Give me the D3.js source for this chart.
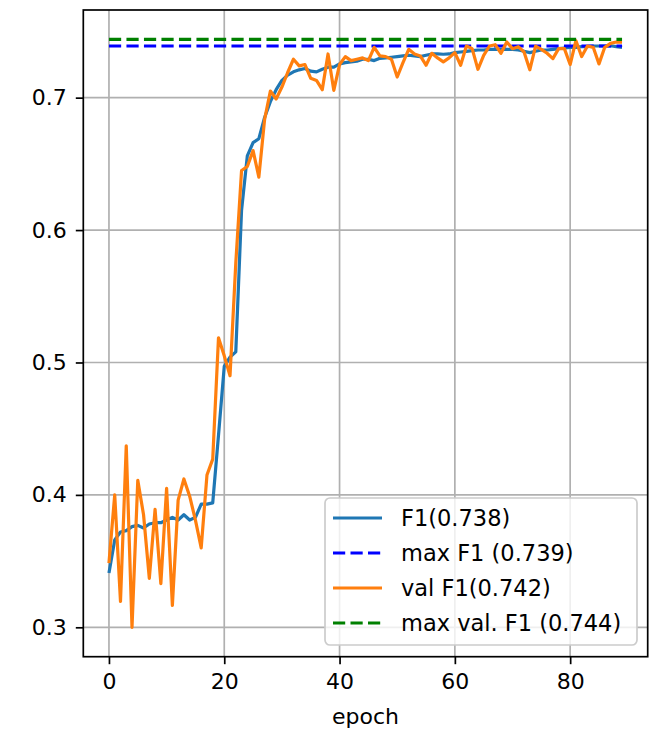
<!DOCTYPE html>
<html lang="en">
<head>
  <meta charset="UTF-8" />
  <title>F1 per epoch</title>
  <style>
    body { margin: 0; background: #fff; font-family: "DejaVu Sans", sans-serif; }
  </style>
</head>
<body>
  <div id="chart"></div>
  <script src="https://d3js.org/d3.v7.min.js"></script>
  <script>
    // training F1 per epoch
    const f1 = [
      0.341, 0.366, 0.372, 0.373, 0.376, 0.377, 0.375, 0.378, 0.379, 0.379,
      0.381, 0.383, 0.381, 0.385, 0.381, 0.383, 0.393, 0.393, 0.394, 0.445,
      0.497, 0.504, 0.508, 0.615, 0.656, 0.666, 0.669, 0.685, 0.697, 0.706,
      0.713, 0.717, 0.7195, 0.721, 0.722, 0.720, 0.7195, 0.7215, 0.723, 0.723,
      0.7255, 0.7265, 0.727, 0.7275, 0.729, 0.729, 0.728, 0.7297, 0.730, 0.7305,
      0.731, 0.7315, 0.732, 0.7315, 0.731, 0.732, 0.733, 0.733, 0.7328, 0.733,
      0.734, 0.7345, 0.735, 0.7355, 0.736, 0.736, 0.7365, 0.7365, 0.7365, 0.7365,
      0.7365, 0.736, 0.735, 0.734, 0.735, 0.736, 0.736, 0.7365, 0.737, 0.7375,
      0.738, 0.738, 0.7385, 0.7385, 0.739, 0.739, 0.739, 0.7392, 0.7385, 0.738
    ];

    // validation F1 per epoch
    const valF1 = [
      0.3485, 0.400, 0.3195, 0.437, 0.300, 0.411, 0.385, 0.337, 0.389, 0.333,
      0.405, 0.3165, 0.396, 0.412, 0.399, 0.381, 0.360, 0.415, 0.427, 0.5186,
      0.505, 0.490, 0.575, 0.645, 0.648, 0.660, 0.640, 0.6836, 0.705, 0.699,
      0.708, 0.719, 0.729, 0.724, 0.725, 0.7146, 0.713, 0.706, 0.733, 0.7055,
      0.725, 0.731, 0.728, 0.729, 0.730, 0.728, 0.738, 0.7315, 0.731, 0.729,
      0.7156, 0.7265, 0.7365, 0.733, 0.7315, 0.7245, 0.7335, 0.730, 0.727, 0.730,
      0.734, 0.7245, 0.739, 0.737, 0.7214, 0.732, 0.739, 0.740, 0.7335, 0.742,
      0.737, 0.7385, 0.7345, 0.721, 0.739, 0.7365, 0.7335, 0.7295, 0.737, 0.737,
      0.725, 0.743, 0.731, 0.739, 0.738, 0.7255, 0.738, 0.741, 0.742, 0.742
    ];

    const maxF1 = 0.739;
    const maxValF1 = 0.744;

    const xTicks = [0, 20, 40, 60, 80];
    const yTicks = [0.3, 0.4, 0.5, 0.6, 0.7];

    const legendLabels = ["F1(0.738)", "max F1 (0.739)", "val F1(0.742)", "max val. F1 (0.744)"];

    const W = 653, H = 731;
    const margin = { top: 10, right: 5.3, bottom: 74.3, left: 83.3 };
    const width = W - margin.left - margin.right;
    const height = H - margin.top - margin.bottom;
    const fontSize = 22;

    const epochs = d3.range(f1.length);

    const svg = d3.select("#chart").append("svg")
      .attr("width", W)
      .attr("height", H);

    const g = svg.append("g")
      .attr("transform", `translate(${margin.left},${margin.top})`);

    // matplotlib style 5% padding
    const xMin = 0, xMax = epochs.length - 1;
    const xPad = (xMax - xMin) * 0.05;
    const x = d3.scaleLinear()
      .domain([xMin - xPad, xMax + xPad])
      .range([0, width]);

    const allY = f1.concat(valF1, [maxF1, maxValF1]);
    const yMin = d3.min(allY), yMax = d3.max(allY);
    const yPad = (yMax - yMin) * 0.05;
    const y = d3.scaleLinear()
      .domain([yMin - yPad, yMax + yPad])
      .range([height, 0]);

    // grid
    g.append("g").selectAll("line")
      .data(xTicks).enter().append("line")
      .attr("x1", d => x(d)).attr("x2", d => x(d))
      .attr("y1", 0).attr("y2", height)
      .attr("stroke", "#b0b0b0").attr("stroke-width", 1.7);

    g.append("g").selectAll("line")
      .data(yTicks).enter().append("line")
      .attr("x1", 0).attr("x2", width)
      .attr("y1", d => y(d)).attr("y2", d => y(d))
      .attr("stroke", "#b0b0b0").attr("stroke-width", 1.7);

    const line = d3.line()
      .x((d, i) => x(i))
      .y(d => y(d));

    const flat = v => [[xMin, v], [xMax, v]];
    const flatLine = d3.line().x(d => x(d[0])).y(d => y(d[1]));

    g.append("path")
      .datum(f1)
      .attr("d", line)
      .attr("fill", "none")
      .attr("stroke", "#1f77b4")
      .attr("stroke-width", 3.2)
      .attr("stroke-linejoin", "round");

    g.append("path")
      .datum(flat(maxF1))
      .attr("d", flatLine)
      .attr("fill", "none")
      .attr("stroke", "#0000ff")
      .attr("stroke-width", 3.2)
      .attr("stroke-dasharray", "12.2 5.3");

    g.append("path")
      .datum(valF1)
      .attr("d", line)
      .attr("fill", "none")
      .attr("stroke", "#ff7f0e")
      .attr("stroke-width", 3.2)
      .attr("stroke-linejoin", "round");

    g.append("path")
      .datum(flat(maxValF1))
      .attr("d", flatLine)
      .attr("fill", "none")
      .attr("stroke", "#008000")
      .attr("stroke-width", 3.2)
      .attr("stroke-dasharray", "12.2 5.3");

    // axes
    const xAxis = g.append("g")
      .attr("transform", `translate(0,${height})`)
      .call(d3.axisBottom(x).tickValues(xTicks).tickSize(7.5).tickPadding(9).tickFormat(d3.format("d")));

    const yAxis = g.append("g")
      .call(d3.axisLeft(y).tickValues(yTicks).tickSize(7.5).tickPadding(9).tickFormat(d3.format(".1f")));

    [xAxis, yAxis].forEach(a => {
      a.select(".domain").remove();
      a.selectAll(".tick line").attr("stroke", "#000").attr("stroke-width", 1.7);
      a.selectAll(".tick text")
        .attr("fill", "#000")
        .style("font-family", "'DejaVu Sans', sans-serif")
        .style("font-size", fontSize + "px");
    });

    // frame
    g.append("rect")
      .attr("x", 0).attr("y", 0)
      .attr("width", width).attr("height", height)
      .attr("fill", "none")
      .attr("stroke", "#000")
      .attr("stroke-width", 1.7);

    svg.append("text")
      .attr("x", margin.left + width / 2)
      .attr("y", 724)
      .attr("text-anchor", "middle")
      .style("font-family", "'DejaVu Sans', sans-serif")
      .style("font-size", fontSize + "px")
      .text("epoch");

    // legend
    const legendStyles = [
      { color: "#1f77b4", dash: null },
      { color: "#0000ff", dash: "12.2 5.3" },
      { color: "#ff7f0e", dash: null },
      { color: "#008000", dash: "12.2 5.3" }
    ];

    const legend = svg.append("g");
    legend.append("rect")
      .attr("x", 325).attr("y", 498)
      .attr("width", 312).attr("height", 147)
      .attr("rx", 5)
      .attr("fill", "#fff").attr("fill-opacity", 0.8)
      .attr("stroke", "#cccccc").attr("stroke-width", 1.7);

    const rows = legend.selectAll(".row")
      .data(legendLabels)
      .enter().append("g")
      .attr("class", "row")
      .attr("transform", (d, i) => `translate(0,${518 + i * 35})`);

    rows.append("line")
      .attr("x1", 333).attr("x2", 382)
      .attr("y1", 0).attr("y2", 0)
      .attr("stroke", (d, i) => legendStyles[i].color)
      .attr("stroke-width", 3.2)
      .attr("stroke-dasharray", (d, i) => legendStyles[i].dash);

    rows.append("text")
      .attr("x", 401)
      .attr("y", 0)
      .attr("dy", "0.36em")
      .style("font-family", "'DejaVu Sans', sans-serif")
      .style("font-size", "22.5px")
      .attr("fill", "#000")
      .text(d => d);
  </script>
</body>
</html>
